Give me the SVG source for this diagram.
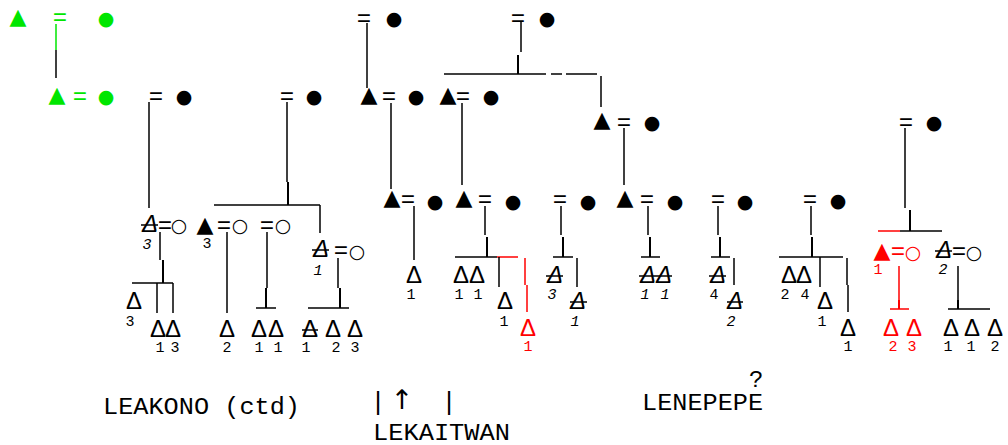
<svg xmlns="http://www.w3.org/2000/svg" width="1008" height="445" viewBox="0 0 1008 445">
<style>
.t{font-family:"DejaVu Sans",sans-serif;font-size:22px;text-anchor:middle}
.c{font-family:"DejaVu Sans",sans-serif;font-size:19px;text-anchor:middle}
.e{font-family:"Liberation Mono",monospace;font-size:24px;text-anchor:middle}
.d{font-family:"Liberation Sans",sans-serif;font-size:24px;text-anchor:middle}
.di{font-family:"Liberation Sans",sans-serif;font-size:24px;text-anchor:middle;font-style:italic}
.n{font-family:"Liberation Mono",monospace;font-size:15px;text-anchor:middle}
.ni{font-family:"Liberation Mono",monospace;font-size:15px;text-anchor:middle;font-style:italic}
.w{font-family:"Liberation Mono",monospace;font-size:24px}
.p{font-family:"Liberation Mono",monospace;font-size:26px;text-anchor:middle}
.ar{font-family:"DejaVu Sans",sans-serif;font-size:27px;text-anchor:middle}
.g{fill:#00e600}
.r{fill:#ff0000}
line{stroke:#000;stroke-width:1.5}
.sk{stroke-width:2}
.lr{stroke:#ff0000}
.lg{stroke:#00e600}
</style>
<rect width="1008" height="445" fill="#fff"/>
<g id="connectors">
<line class="lg" x1="56" y1="24" x2="56" y2="50"/>
<line x1="56" y1="50" x2="56" y2="78"/>
<line x1="149" y1="102" x2="149" y2="208"/>
<line x1="160" y1="232" x2="160" y2="260"/>
<line class="sk" x1="163" y1="260" x2="163" y2="283"/>
<line x1="132" y1="283" x2="173" y2="283"/>
<line x1="157" y1="283" x2="157" y2="313"/>
<line x1="173" y1="283" x2="173" y2="313"/>
<line x1="287" y1="102" x2="287" y2="182"/>
<line class="sk" x1="288" y1="182" x2="288" y2="205"/>
<line x1="214" y1="205" x2="320" y2="205"/>
<line x1="320" y1="205" x2="320" y2="233"/>
<line x1="227" y1="232" x2="227" y2="313"/>
<line x1="267" y1="232" x2="267" y2="288"/>
<line class="sk" x1="266" y1="288" x2="266" y2="308"/>
<line x1="256" y1="308" x2="276" y2="308"/>
<line x1="338" y1="258" x2="338" y2="288"/>
<line class="sk" x1="340" y1="288" x2="340" y2="308"/>
<line x1="308" y1="308" x2="349" y2="308"/>
<line x1="367" y1="23" x2="367" y2="88"/>
<line x1="391" y1="103" x2="391" y2="189"/>
<line x1="414" y1="206" x2="414" y2="260"/>
<line x1="521" y1="22" x2="521" y2="52"/>
<line class="sk" x1="518" y1="55" x2="518" y2="74"/>
<line x1="444" y1="74" x2="546" y2="74"/>
<line x1="551" y1="74" x2="562" y2="74"/>
<line x1="566" y1="74" x2="597" y2="74"/>
<line x1="601" y1="76" x2="601" y2="107"/>
<line x1="462" y1="103" x2="462" y2="185"/>
<line x1="485" y1="206" x2="485" y2="235"/>
<line class="sk" x1="487" y1="237" x2="487" y2="257"/>
<line x1="455" y1="257" x2="497" y2="257"/>
<line class="lr" x1="497" y1="257" x2="518" y2="257"/>
<line x1="499" y1="257" x2="499" y2="287"/>
<line class="lr" x1="525" y1="258" x2="525" y2="285"/>
<line class="lr" x1="527" y1="285" x2="527" y2="312"/>
<line x1="561" y1="206" x2="561" y2="235"/>
<line class="sk" x1="563" y1="237" x2="563" y2="257"/>
<line x1="553" y1="257" x2="573" y2="257"/>
<line x1="577" y1="258" x2="577" y2="287"/>
<line x1="624" y1="128" x2="624" y2="185"/>
<line x1="648" y1="206" x2="648" y2="235"/>
<line class="sk" x1="650" y1="237" x2="650" y2="257"/>
<line x1="641" y1="257" x2="660" y2="257"/>
<line x1="718" y1="206" x2="718" y2="235"/>
<line class="sk" x1="720" y1="237" x2="720" y2="257"/>
<line x1="711" y1="257" x2="730" y2="257"/>
<line x1="734" y1="258" x2="734" y2="285"/>
<line x1="811" y1="206" x2="811" y2="235"/>
<line class="sk" x1="812" y1="237" x2="812" y2="257"/>
<line x1="779" y1="257" x2="843" y2="257"/>
<line x1="820" y1="257" x2="820" y2="287"/>
<line x1="847" y1="258" x2="847" y2="285"/>
<line x1="848" y1="285" x2="848" y2="312"/>
<line x1="905" y1="128" x2="905" y2="208"/>
<line class="sk" x1="910" y1="210" x2="910" y2="231"/>
<line class="lr" x1="878" y1="231" x2="900" y2="231"/>
<line x1="900" y1="231" x2="942" y2="231"/>
<line class="lr" x1="899" y1="266" x2="899" y2="300"/>
<line class="lr sk" x1="899" y1="300" x2="899" y2="309"/>
<line class="lr" x1="890" y1="309" x2="909" y2="309"/>
<line x1="958" y1="266" x2="958" y2="300"/>
<line class="sk" x1="958" y1="300" x2="958" y2="309"/>
<line x1="948" y1="309" x2="990" y2="309"/>
</g>
<g id="green-top">
<text><tspan class="t g" x="18" y="24">▲</tspan><tspan class="e g" x="60" y="25">=</tspan><tspan class="c g" x="106" y="24.5">●</tspan></text>
</g>
<g id="green-second">
<text><tspan class="t g" x="57" y="102">▲</tspan><tspan class="e g" x="80" y="104">=</tspan><tspan class="c g" x="106" y="102.5">●</tspan></text>
</g>
<g id="couple-a">
<text><tspan class="e" x="156" y="104">=</tspan><tspan class="c" x="184" y="102.5">●</tspan></text>
</g>
<g id="a-son">
<text><tspan class="di" x="150" y="232">Δ</tspan><tspan class="e" x="165" y="233">=</tspan><tspan class="c" x="179" y="231.5">○</tspan></text>
<line x1="141" y1="225" x2="158" y2="225"/>
<text class="ni" x="147" y="249">3</text>
</g>
<g id="a-children">
<text class="d" x="134" y="309">Δ</text><text class="n" x="130" y="326">3</text>
<text><tspan class="d" x="158" y="337">Δ</tspan><tspan class="d" x="173" y="337">Δ</tspan></text>
<text class="n" x="160" y="352">1</text><text class="n" x="175" y="352">3</text>
</g>
<g id="couple-b">
<text><tspan class="e" x="287" y="104">=</tspan><tspan class="c" x="314" y="102.5">●</tspan></text>
</g>
<g id="b-child1">
<text><tspan class="t" x="205" y="232">▲</tspan><tspan class="e" x="224" y="233">=</tspan><tspan class="c" x="240" y="231.5">○</tspan></text>
<text class="n" x="207" y="248">3</text>
<text class="d" x="227" y="337">Δ</text><text class="n" x="227" y="352">2</text>
</g>
<g id="b-child2">
<text><tspan class="e" x="267" y="233">=</tspan><tspan class="c" x="283" y="231.5">○</tspan></text>
<text><tspan class="d" x="259" y="337">Δ</tspan><tspan class="d" x="276" y="337">Δ</tspan></text>
<text class="n" x="259" y="352">1</text><text class="n" x="278" y="352">1</text>
</g>
<g id="b-child3">
<text><tspan class="di" x="321" y="257">Δ</tspan><tspan class="e" x="341" y="258">=</tspan><tspan class="c" x="357" y="257.5">○</tspan></text>
<line x1="312" y1="250" x2="329" y2="250"/>
<text class="ni" x="318" y="275">1</text>
<text><tspan class="d" x="310" y="337">Δ</tspan><tspan class="d" x="333" y="337">Δ</tspan><tspan class="d" x="355" y="337">Δ</tspan></text>
<line x1="302" y1="330" x2="318" y2="330"/>
<text class="n" x="306" y="352">1</text><text class="n" x="336" y="352">2</text><text class="n" x="355" y="352">3</text>
</g>
<g id="couple-c">
<text><tspan class="e" x="364" y="26">=</tspan><tspan class="c" x="394" y="24.5">●</tspan></text>
</g>
<g id="c-son">
<text><tspan class="t" x="369" y="102">▲</tspan><tspan class="e" x="389" y="104">=</tspan><tspan class="c" x="416" y="102.5">●</tspan></text>
</g>
<g id="c-grandson">
<text><tspan class="t" x="392" y="205">▲</tspan><tspan class="e" x="408" y="207">=</tspan><tspan class="c" x="435" y="207.5">●</tspan></text>
<text class="d" x="414" y="283">Δ</text><text class="n" x="411" y="299">1</text>
</g>
<g id="couple-d">
<text><tspan class="e" x="518" y="26">=</tspan><tspan class="c" x="547" y="24.5">●</tspan></text>
</g>
<g id="d-son1">
<text><tspan class="t" x="448" y="102">▲</tspan><tspan class="e" x="463" y="104">=</tspan><tspan class="c" x="491" y="102.5">●</tspan></text>
</g>
<g id="d-grandson1">
<text><tspan class="t" x="464" y="205">▲</tspan><tspan class="e" x="485" y="207">=</tspan><tspan class="c" x="513" y="207.5">●</tspan></text>
<text><tspan class="d" x="461" y="283">Δ</tspan><tspan class="d" x="477" y="283">Δ</tspan></text>
<text class="n" x="459" y="299">1</text><text class="n" x="478" y="299">1</text>
<text class="d" x="505" y="309">Δ</text><text class="n" x="504" y="326">1</text>
<text class="d r" x="528" y="336">Δ</text><text class="n r" x="528" y="351">1</text>
</g>
<g id="d-couple2">
<text><tspan class="e" x="560" y="207">=</tspan><tspan class="c" x="588" y="207.5">●</tspan></text>
<text class="di" x="555" y="283">Δ</text><line x1="546" y1="276" x2="563" y2="276"/><text class="ni" x="552" y="299">3</text>
<text class="di" x="578" y="309">Δ</text><line x1="570" y1="302" x2="587" y2="302"/><text class="ni" x="575" y="326">1</text>
</g>
<g id="d-son2">
<text><tspan class="t" x="602" y="127">▲</tspan><tspan class="e" x="624" y="130">=</tspan><tspan class="c" x="652" y="128.5">●</tspan></text>
</g>
<g id="d-grandson2">
<text><tspan class="t" x="625" y="205">▲</tspan><tspan class="e" x="647" y="207">=</tspan><tspan class="c" x="675" y="207.5">●</tspan></text>
<text><tspan class="di" x="648" y="283">Δ</tspan><tspan class="di" x="664" y="283">Δ</tspan></text>
<line x1="639" y1="276" x2="672" y2="276"/>
<text class="ni" x="645" y="299">1</text><text class="ni" x="665" y="299">1</text>
</g>
<g id="d-couple3">
<text><tspan class="e" x="718" y="207">=</tspan><tspan class="c" x="745" y="207.5">●</tspan></text>
<text class="di" x="718" y="283">Δ</text><line x1="709" y1="276" x2="726" y2="276"/><text class="n" x="714" y="299">4</text>
<text class="di" x="735" y="309">Δ</text><line x1="727" y1="302" x2="743" y2="302"/><text class="ni" x="731" y="326">2</text>
</g>
<g id="couple-e">
<text><tspan class="e" x="810" y="207">=</tspan><tspan class="c" x="838" y="206.5">●</tspan></text>
<text><tspan class="d" x="789" y="283">Δ</tspan><tspan class="d" x="804" y="283">Δ</tspan></text>
<text class="n" x="785" y="299">2</text><text class="n" x="805" y="299">4</text>
<text class="d" x="825" y="309">Δ</text><text class="n" x="822" y="326">1</text>
<text class="d" x="848" y="336">Δ</text><text class="n" x="848" y="351">1</text>
</g>
<g id="couple-f">
<text><tspan class="e" x="906" y="130">=</tspan><tspan class="c" x="934" y="128.5">●</tspan></text>
</g>
<g id="f-son1">
<text><tspan class="t r" x="882" y="258">▲</tspan><tspan class="e r" x="898" y="259">=</tspan><tspan class="c r" x="913" y="258.5">○</tspan></text>
<text class="n r" x="878" y="274">1</text>
<text><tspan class="d r" x="891" y="336">Δ</tspan><tspan class="d r" x="914" y="336">Δ</tspan></text>
<text class="n r" x="893" y="351">2</text><text class="n r" x="912" y="351">3</text>
</g>
<g id="f-son2">
<text><tspan class="di" x="944" y="258">Δ</tspan><tspan class="e" x="959" y="259">=</tspan><tspan class="c" x="974" y="258.5">○</tspan></text>
<line x1="935" y1="251" x2="952" y2="251"/>
<text class="ni" x="943" y="274">2</text>
<text><tspan class="d" x="951" y="336">Δ</tspan><tspan class="d" x="972" y="336">Δ</tspan><tspan class="d" x="995" y="336">Δ</tspan></text>
<text class="n" x="948" y="351">1</text><text class="n" x="971" y="351">1</text><text class="n" x="995" y="351">2</text>
</g>
<g id="labels">
<text class="w" x="103" y="414" textLength="197" lengthAdjust="spacingAndGlyphs">LEAKONO (ctd)</text>
<text class="p" x="378" y="410">|</text>
<text class="ar" x="402" y="409">↑</text>
<text class="p" x="449" y="410">|</text>
<text class="w" x="373" y="440" textLength="137" lengthAdjust="spacingAndGlyphs">LEKAITWAN</text>
<text class="w" x="749" y="387">?</text>
<text class="w" x="642" y="410" textLength="121" lengthAdjust="spacingAndGlyphs">LENEPEPE</text>
</g>
</svg>
